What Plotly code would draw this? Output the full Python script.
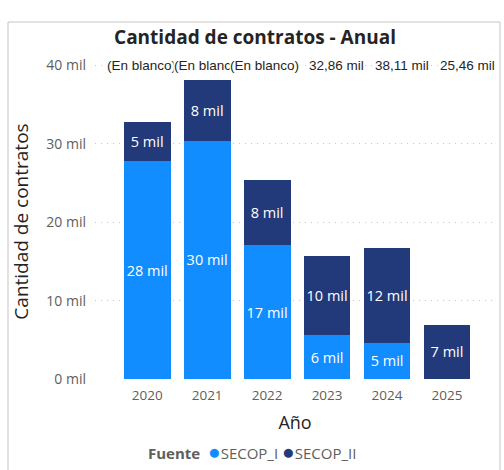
"""Stacked bar chart: Cantidad de contratos - Anual (SECOP_I / SECOP_II)."""

import plotly.graph_objects as go

# --- data (thousands of contracts) ---
years = ["2020", "2021", "2022", "2023", "2024", "2025"]
secop_i = [27.76, 30.40, 17.10, 5.60, 4.60, 0.0]
secop_ii = [5.10, 7.71, 8.36, 10.10, 12.10, 6.90]
top_labels = ["(En blanco)", "(En blanco)", "(En blanco)", "32,86 mil", "38,11 mil", "25,46 mil"]
y_ticks = [0, 10, 20, 30, 40]

COLOR_I = "#118DFF"
COLOR_II = "#223A7A"
GREY = "#605E5C"
DARK = "#252423"
FONT = "Open Sans"

# plot area in pixels: x 95..495, y 64..379
def _px(x):
    return (x - 95) / 400


def _py(y):
    return (379 - y) / 315


def _labels(values):
    return [f"{v:.0f} mil" if v > 0 else "" for v in values]


fig = go.Figure()
for name, values, color in [("SECOP_I", secop_i, COLOR_I), ("SECOP_II", secop_ii, COLOR_II)]:
    fig.add_trace(go.Bar(
        x=years,
        y=values,
        name=name,
        marker_color=color,
        marker_line_width=0,
        text=_labels(values),
        textposition="inside",
        insidetextanchor="middle",
        textangle=0,
        constraintext="none",
        textfont=dict(family=FONT, size=14.5, color="white"),
        showlegend=False,
    ))

# total labels row along the 40 mil line (offsets as in the original visual)
label_shift = [-6, 1, -3, 9, 15, 20]
for i, (text, shift) in enumerate(zip(top_labels, label_shift)):
    fig.add_annotation(
        xref="x", yref="y", x=i, y=40, text=text, showarrow=False, xshift=shift,
        font=dict(family="Liberation Sans", size=13.5, color=DARK),
        bgcolor="white", borderpad=0,
    )

# legend drawn as a single line like the Power BI legend
dot = "<span style='font-size:21px;color:{}'>●</span>"
fig.add_annotation(
    xref="paper", yref="paper", x=_px(252), y=_py(451),
    xanchor="center", yanchor="middle",
    showarrow=False,
    text=(f"<b>Fuente</b>  {dot.format(COLOR_I)}SECOP_I "
          f"{dot.format(COLOR_II)}SECOP_II"),
    font=dict(family=FONT, size=15, color=GREY),
)

# visual frame
fig.add_shape(
    type="rect", xref="paper", yref="paper",
    x0=_px(8), x1=_px(500), y0=_py(480), y1=_py(22),
    line=dict(color="#C8C6C4", width=1), fillcolor="rgba(0,0,0,0)", layer="below",
)

fig.update_layout(
    width=504,
    height=470,
    margin=dict(l=95, r=9, t=64, b=91),
    paper_bgcolor="white",
    plot_bgcolor="white",
    barmode="stack",
    bargap=0.22,
    title=dict(
        text="<b>Cantidad de contratos - Anual</b>",
        xref="container", yref="container", x=255 / 504, y=1 - 37 / 470,
        xanchor="center", yanchor="middle",
        font=dict(family=FONT, size=19, color=DARK),
    ),
    font=dict(family=FONT, color=GREY),
)
fig.update_xaxes(
    type="category",
    range=[-0.87, 5.8],
    showgrid=False, showline=False, ticks="",
    tickfont=dict(size=13.5, color=GREY),
    ticklabelstandoff=6,
    title=dict(text="Año", font=dict(size=18, color=DARK), standoff=13),
)
fig.update_yaxes(
    range=[0, 40.2],
    tickvals=y_ticks,
    ticktext=[f"{t} mil" for t in y_ticks],
    showgrid=True, gridcolor="#C8C6C4", griddash="1px,5px", gridwidth=1,
    zeroline=False, showline=False, ticks="",
    tickfont=dict(size=14, color=GREY),
    ticklabelstandoff=8,
    title=dict(text="Cantidad de contratos", font=dict(size=19, color=DARK), standoff=12),
)

fig.write_html(
    "out.html",
    config={"displayModeBar": False},
    post_script="document.body.style.margin='0';",
)
